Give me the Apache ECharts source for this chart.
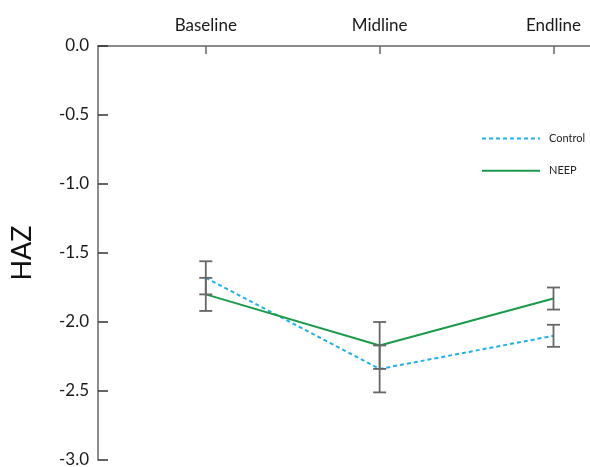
<!DOCTYPE html>
<html>
<head>
<meta charset="utf-8">
<script src="https://cdn.jsdelivr.net/npm/echarts@6/dist/echarts.min.js"></script>
<style>
  html, body { margin: 0; padding: 0; background: #fff; }
  #chart { width: 590px; height: 467px; }
</style>
</head>
<body>
<div id="chart"></div>
<script>
// 数据
var categories = ['Baseline', 'Midline', 'Endline']
var controlMean = [-1.68, -2.34, -2.10]
var controlErr = [0.12, 0.17, 0.08]
var neepMean = [-1.80, -2.17, -1.83]
var neepErr = [0.12, 0.17, 0.08]
var yTicks = [0, -0.5, -1, -1.5, -2, -2.5, -3]

function linePoints(means) {
  return means.map(function (v, i) { return [i, v] })
}
function errPoints(means, errs) {
  return means.map(function (v, i) { return [i, v - errs[i], v + errs[i]] })
}

function renderErr(params, api) {
  var x = api.value(0)
  var lo = api.coord([x, api.value(1)])
  var hi = api.coord([x, api.value(2)])
  var half = 6.5
  var style = { stroke: '#666', lineWidth: 1.8 }
  return {
    type: 'group',
    children: [
      { type: 'line', shape: { x1: lo[0], y1: lo[1], x2: hi[0], y2: hi[1] }, style: style },
      { type: 'line', shape: { x1: lo[0] - half, y1: lo[1], x2: lo[0] + half, y2: lo[1] }, style: style },
      { type: 'line', shape: { x1: hi[0] - half, y1: hi[1], x2: hi[0] + half, y2: hi[1] }, style: style }
    ]
  }
}

var myChart = echarts.init(document.getElementById('chart'))
var option = {
  animation: false,
  textStyle: { fontFamily: 'Lato' },
  grid: { left: 98, right: 0, top: 46, bottom: 7, containLabel: false, outerBoundsMode: 'none' },
  legend: {
    orient: 'vertical',
    left: 476,
    top: 128,
    itemWidth: 58,
    itemHeight: 14,
    itemGap: 21,
    itemStyle: { opacity: 0 },
    textStyle: { fontSize: 11, color: '#222', fontFamily: 'Lato', padding: [0, 0, 0, 4] },
    data: ['Control', 'NEEP']
  },
  xAxis: {
    type: 'value',
    position: 'top',
    min: -0.62,
    max: 2.21,
    splitLine: { show: false },
    axisLine: { lineStyle: { color: '#666', width: 1.5 } },
    axisTick: { inside: true, length: 8, customValues: [0, 1, 2], lineStyle: { color: '#666', width: 1.5 } },
    axisLabel: {
      customValues: [0, 1, 2],
      margin: 12,
      fontSize: 17,
      color: '#1a1a1a',
      formatter: function (v) { return categories[Math.round(v)] }
    }
  },
  yAxis: {
    type: 'value',
    min: -3,
    max: 0,
    interval: 0.5,
    name: 'HAZ',
    nameLocation: 'middle',
    nameGap: 62,
    nameRotate: 90,
    nameTextStyle: { fontSize: 27, color: '#111', fontFamily: 'Lato' },
    splitLine: { show: false },
    axisLine: { onZero: false, lineStyle: { color: '#666', width: 1.5 } },
    axisTick: { inside: true, length: 10, lineStyle: { color: '#333', width: 1.5 } },
    axisLabel: {
      margin: 9,
      fontSize: 17,
      color: '#1a1a1a',
      formatter: function (v) { return v.toFixed(1) }
    }
  },
  series: [
    {
      name: 'Control',
      type: 'line',
      data: linePoints(controlMean),
      symbol: 'none',
      itemStyle: { color: '#1fb0ea' },
      lineStyle: { color: '#1fb0ea', width: 2, type: [4, 3] }
    },
    {
      name: 'NEEP',
      type: 'line',
      data: linePoints(neepMean),
      symbol: 'none',
      itemStyle: { color: '#1a9a4a' },
      lineStyle: { color: '#1a9a4a', width: 2 }
    },
    {
      type: 'custom',
      renderItem: renderErr,
      data: errPoints(controlMean, controlErr),
      z: 5
    },
    {
      type: 'custom',
      renderItem: renderErr,
      data: errPoints(neepMean, neepErr),
      z: 5
    }
  ]
}
myChart.setOption(option)
</script>
</body>
</html>
